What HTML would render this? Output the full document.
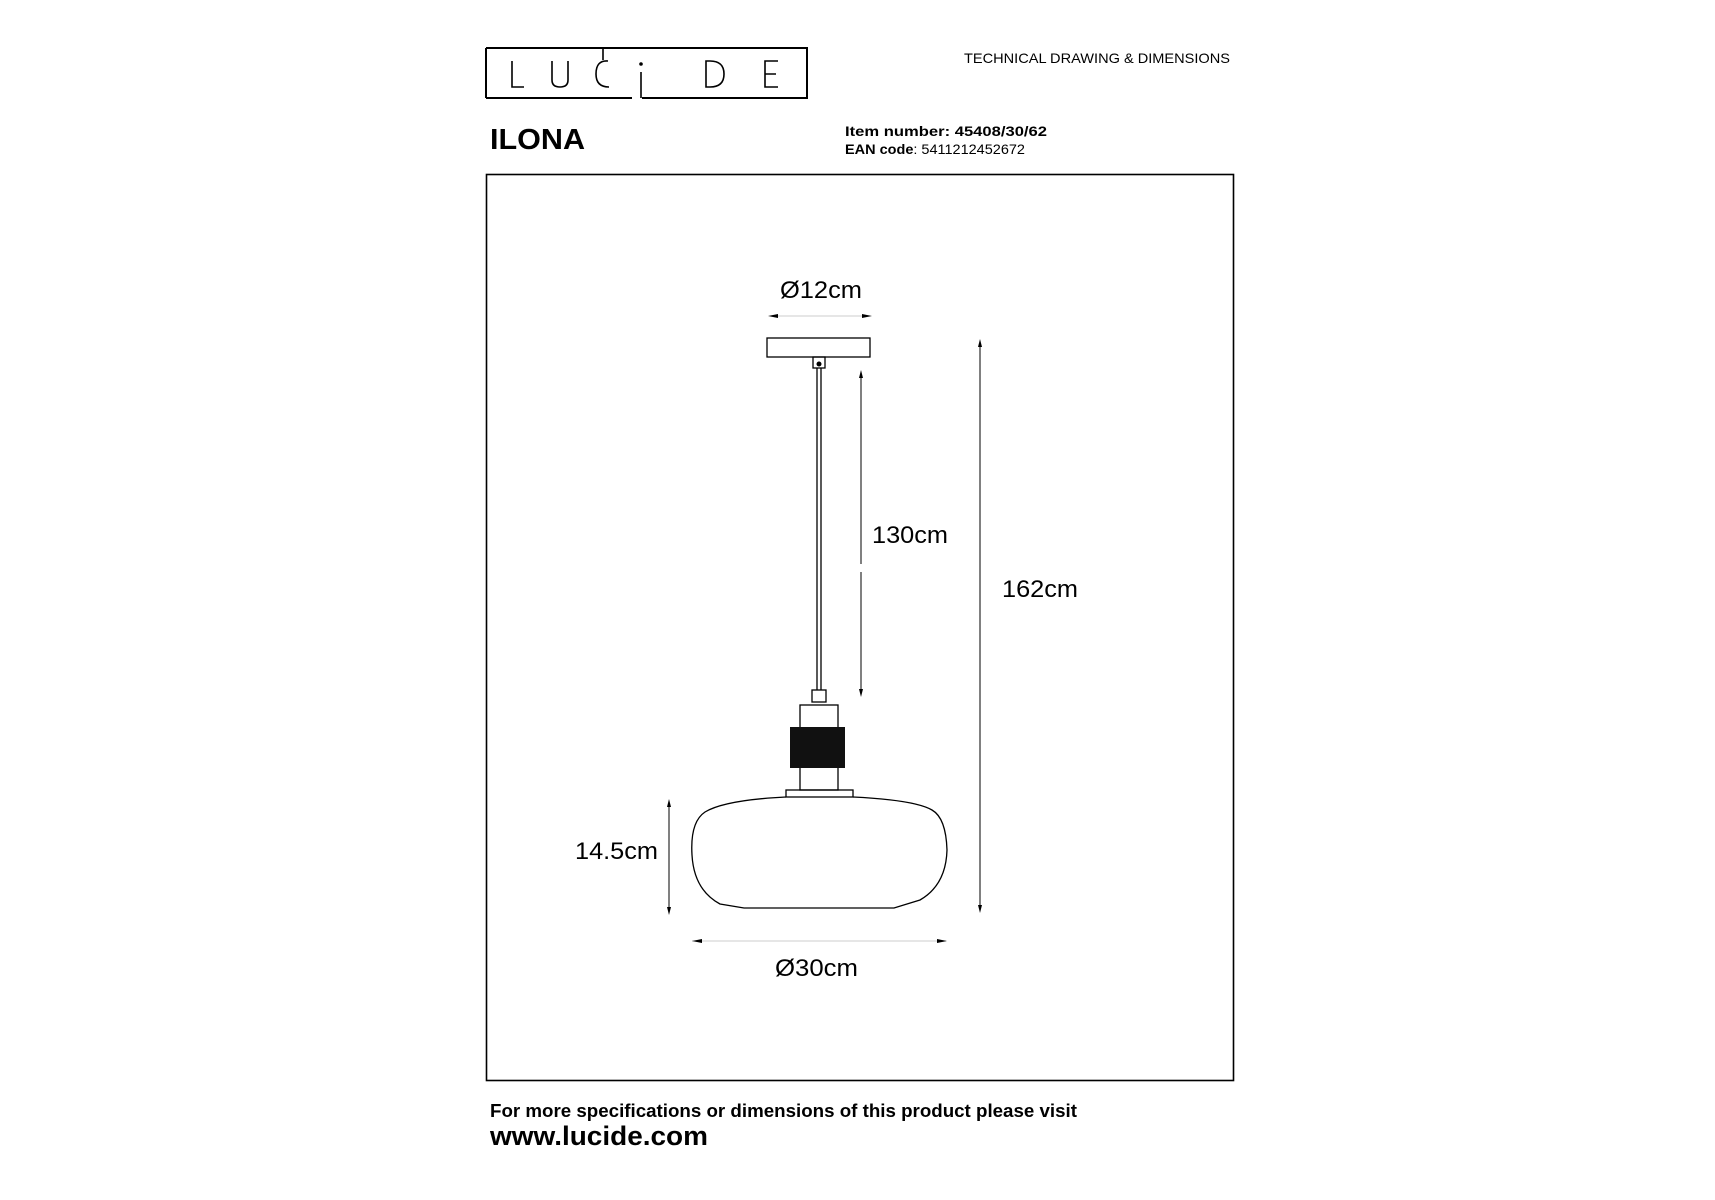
<!DOCTYPE html>
<html><head><style>
body{margin:0;background:#fff;}
svg{display:block;}
text{font-family:"Liberation Sans",Arial,sans-serif;fill:#000;}
</style></head><body>
<svg width="1715" height="1200" viewBox="0 0 1715 1200" xmlns="http://www.w3.org/2000/svg">
<!-- logo -->
<g fill="none" stroke="#000" stroke-width="2">
<path d="M486 48 H807 V98 H642 M632 98 H486 Z" stroke-linejoin="miter"/>
<path d="M486 48 V98"/>
</g>
<g fill="none" stroke="#000" stroke-width="1.6">
<path d="M512 61 V87 H524"/>
<path d="M552 61 V80 Q552 87 560 87 Q568 87 568 80 V61"/>
<path d="M603 48 V60 M608 61 Q596 60 596 74 Q596 87 609 87"/>
<path d="M641 72 V98"/>
<path d="M706 61 V87 H710 Q724 87 724 74 Q724 61 710 61 Z"/>
<path d="M778 61 H765 V87 H778 M765 74 H776"/>
</g>
<circle cx="641" cy="64" r="1.8"/>
<text x="964" y="63" font-size="14" textLength="266" lengthAdjust="spacingAndGlyphs">TECHNICAL DRAWING &amp; DIMENSIONS</text>
<text x="490" y="149" font-size="29" font-weight="bold" textLength="95" lengthAdjust="spacingAndGlyphs">ILONA</text>
<text x="845" y="136" font-size="14" font-weight="bold" textLength="202" lengthAdjust="spacingAndGlyphs">Item number: 45408/30/62</text>
<text x="845" y="154" font-size="14" textLength="180" lengthAdjust="spacingAndGlyphs"><tspan font-weight="bold">EAN code</tspan>: 5411212452672</text>
<rect x="486.5" y="174.5" width="747" height="906" fill="none" stroke="#000" stroke-width="1.6"/>
<!-- drawing -->
<g fill="none" stroke="#000" stroke-width="1.3">
<rect x="767" y="338" width="103" height="19"/>
<rect x="813" y="357" width="12" height="11"/>
<line x1="817" y1="368" x2="817" y2="690"/><line x1="821" y1="368" x2="821" y2="690"/>
<rect x="812" y="690" width="14" height="12"/>
<rect x="800" y="705" width="38" height="85"/>
<rect x="786" y="790" width="67" height="7"/>
<path d="M786 797 Q725 800 705 812 Q690 822 692 855 Q694 890 720 904 L744 908 H894 L920 900 Q946 885 947 850 Q946 818 932 810 Q915 800 853 797"/>
</g>
<rect x="790" y="727" width="55" height="41" fill="#111"/>
<circle cx="819" cy="364" r="2.5"/>
<!-- dims -->
<g stroke="#000" stroke-width="1">
<line x1="772" y1="316" x2="868" y2="316" stroke="#ccc"/>
<line x1="861" y1="372" x2="861" y2="564"/><line x1="861" y1="572" x2="861" y2="695"/>
<line x1="980" y1="341" x2="980" y2="911"/>
<line x1="669" y1="801" x2="669" y2="913"/>
<line x1="692" y1="941" x2="946" y2="941" stroke="#ccc"/>
</g>
<g fill="#000">
<path d="M768 316 l10 -2 v4z"/><path d="M872 316 l-10 -2 v4z"/>
<path d="M861 370 l-2 8 h4z"/><path d="M861 697 l-2 -8 h4z"/>
<path d="M980 339 l-2 8 h4z"/><path d="M980 913 l-2 -8 h4z"/>
<path d="M669 799 l-2 8 h4z"/><path d="M669 915 l-2 -8 h4z"/>
<path d="M692 941 l10 -2 v4z"/><path d="M947 941 l-10 -2 v4z"/>
</g>
<g font-size="24">
<text x="780" y="298" textLength="82" lengthAdjust="spacingAndGlyphs">Ø12cm</text>
<text x="872" y="543" textLength="76" lengthAdjust="spacingAndGlyphs">130cm</text>
<text x="1002" y="597" textLength="76" lengthAdjust="spacingAndGlyphs">162cm</text>
<text x="575" y="859" textLength="83" lengthAdjust="spacingAndGlyphs">14.5cm</text>
<text x="775" y="976" textLength="83" lengthAdjust="spacingAndGlyphs">Ø30cm</text>
</g>
<text x="490" y="1117" font-size="18" font-weight="bold" textLength="587" lengthAdjust="spacingAndGlyphs">For more specifications or dimensions of this product please visit</text>
<text x="490" y="1145" font-size="27" font-weight="bold" textLength="218" lengthAdjust="spacingAndGlyphs">www.lucide.com</text>
</svg>
</body></html>
